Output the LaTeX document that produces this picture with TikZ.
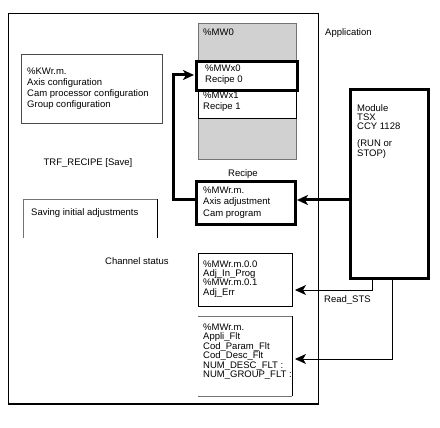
\documentclass[tikz,border=0pt]{standalone}
\usepackage{fontspec}
\setmainfont{Liberation Sans}
\usetikzlibrary{arrows.meta,calc}
\begin{document}
\begin{tikzpicture}[x=1pt,y=-1pt,
  txt/.style={anchor=base west,inner sep=0pt,align=left,font=\fontsize{9.5}{11}\selectfont},
  box/.style={inner sep=0pt,outer sep=0pt,anchor=north west},
  thinline/.style={draw=black,line width=0.8pt},
  grayline/.style={draw=black!55,line width=0.8pt},
  thickbox/.style={draw=black,line width=3pt},
  bigarrow/.style={line width=3pt,-{Stealth[length=11pt,width=10pt,inset=3pt]}},
  smallarrow/.style={line width=0.8pt,-{Stealth[length=11pt,width=10pt,inset=3pt]}},
]
\useasboundingbox (0,0) rectangle (440,428);
% application frame
\node[box,minimum width=310pt,minimum height=391pt,thinline] (app) at (8,13) {};
\draw[line width=2.5pt] (app.south west) -- (app.south east);
% left boxes
\node[box,minimum width=141pt,minimum height=69pt,thinline,draw=black!70] (kw) at (21,54) {};
\node[box,minimum width=134pt,minimum height=39pt] (save) at (23,199) {};
\draw[grayline] (save.south west) -- (save.north west) -- (save.north east);
\draw[thinline] (save.north east) -- (save.south east);
% memory column
\node[box,minimum width=98pt,minimum height=136pt,fill=black!18,grayline] (mw) at (198,23) {};
\node[box,minimum width=98pt,minimum height=27pt,fill=white,thinline] (rec1) at (198,91) {};
\node[box,minimum width=101pt,minimum height=29pt,fill=white,thickbox] (rec0) at (196,62) {};
\node[box,minimum width=99pt,minimum height=43pt,fill=white,thickbox] (axis) at (196,182) {};
% status boxes
\node[box,minimum width=94pt,minimum height=53pt,thinline] (status) at (198,253) {};
\node[box,minimum width=94pt,minimum height=80pt] (fault) at (198,316) {};
\draw[grayline] (fault.north west) -- (fault.north east);
\draw[thinline] (fault.north east) -- (fault.south east);
\draw[grayline] (fault.south east) -- (fault.south west);
% module
\node[box,minimum width=78pt,minimum height=188pt,thickbox] (module) at (350,90) {};
% texts (anchor = baseline of the last line)
\node[txt] (tkw) at (27,108) {\%KWr.m.\\Axis configuration\\Cam processor configuration\\Group configuration};
\node[txt,anchor=base] (ttrf) at (88,165) {TRF\_RECIPE [Save]};
\node[txt] (tsave) at (31,215) {Saving initial adjustments};
\node[txt] (tchan) at (105,264) {Channel status};
\node[txt] (tmw) at (203,36) {\%MW0};
\node[txt,font=\fontsize{9.5}{10.5}\selectfont] (trec0) at (205,82.5) {\%MWx0\\Recipe 0};
\node[txt,font=\fontsize{9.5}{10.5}\selectfont] (trec1) at (203,109.5) {\%MWx1\\Recipe 1};
\node[txt,anchor=base] (trecipe) at (243,176) {Recipe};
\node[txt,font=\fontsize{9.5}{11.5}\selectfont] (taxis) at (203,216) {\%MWr.m.\\Axis adjustment\\Cam program};
\node[txt,font=\fontsize{9.5}{9.4}\selectfont] (tstatus) at (203,295.2) {\%MWr.m.0.0\\Adj\_In\_Prog\\\%MWr.m.0.1\\Adj\_Err};
\node[txt,font=\fontsize{9.5}{9.5}\selectfont] (tfault) at (203,377.5) {\%MWr.m.\\Appli\_Flt\\Cod\_Param\_Flt\\Cod\_Desc\_Flt\\NUM\_DESC\_FLT :\\NUM\_GROUP\_FLT :};
\node[txt,font=\fontsize{9.5}{8.7}\selectfont] (tmod) at (357,156.5) {Module\\TSX\\CCY 1128\\[8.7pt](RUN or\\STOP)};
\node[txt] (tapp) at (325,36) {Application};
\node[txt] (tread) at (324,302) {Read\_STS};
% connectors
\coordinate (m1) at ($(module.south west)+(22,0)$);
\coordinate (m2) at ($(module.south west)+(42,0)$);
\draw[bigarrow] ([yshift=3.5pt]axis.east -| module.west) -- ([xshift=2pt,yshift=3.5pt]axis.east);
\draw[bigarrow] ([yshift=3.5pt]axis.west) -- ++(-23,0) |- ([xshift=-2pt,yshift=1.5pt]rec0.west);
\draw[smallarrow] (m1) |- ([xshift=3pt,yshift=-10.5pt]status.east);
\draw[smallarrow] (m2) |- ([xshift=3pt,yshift=-3pt]fault.east);
\end{tikzpicture}
\end{document}
